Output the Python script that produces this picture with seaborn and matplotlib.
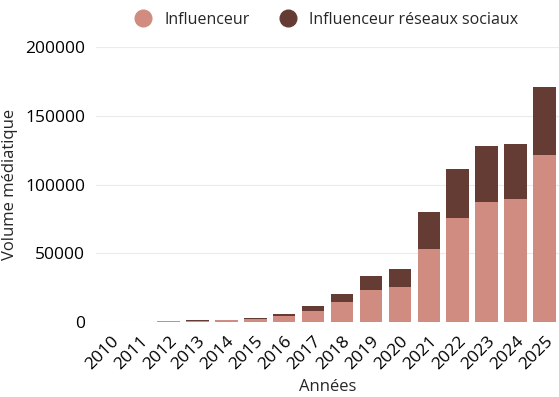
import matplotlib
matplotlib.use("Agg")
import matplotlib.pyplot as plt
from matplotlib.lines import Line2D
import seaborn as sns
import pandas as pd

# données
annees = [str(a) for a in range(2010, 2026)]
influenceur = [0, 500, 900, 1200, 1600, 2100, 4600, 8500, 14600, 23300, 25700,
               53000, 75700, 87300, 89500, 121400]
reseaux_sociaux = [0, 100, 100, 200, 300, 800, 1700, 3600, 6000, 10600, 13300,
                   27300, 35300, 40600, 40300, 49500]

couleur_inf = "#D08C80"
couleur_rs = "#643C34"

sns.set_theme(style="white")
plt.rcParams['font.family'] = ['Open Sans', 'DejaVu Sans']

df = pd.DataFrame({
    'annee': annees,
    'influenceur': influenceur,
    'total': [a + b for a, b in zip(influenceur, reseaux_sociaux)],
})

fig = plt.figure(figsize=(5.59, 3.97), dpi=100)
ax = fig.add_axes([0.172, 0.188, 0.828, 0.694])

# empilement : total en foncé, puis la part influenceur par-dessus
sns.barplot(data=df, x='annee', y='total', color=couleur_rs, saturation=1,
            width=0.78, linewidth=0, ax=ax)
sns.barplot(data=df, x='annee', y='influenceur', color=couleur_inf, saturation=1,
            width=0.78, linewidth=0, ax=ax)

ax.set_ylim(0, 200000)
ax.set_yticks([0, 50000, 100000, 150000, 200000])
ax.set_yticklabels(['0', '50000', '100000', '150000', '200000'])
ax.yaxis.grid(True, color="#ebebeb", linewidth=0.8)
ax.set_axisbelow(True)
sns.despine(ax=ax, left=True, bottom=True)
ax.tick_params(axis='both', length=0, labelsize=12.5, colors='black', pad=8)
plt.setp(ax.get_xticklabels(), rotation=45, ha='right', rotation_mode='anchor')

ax.set_xlabel('Années', fontsize=12, labelpad=4)
ax.set_ylabel('Volume médiatique', fontsize=12, labelpad=5)

handles = [
    Line2D([], [], marker='o', linestyle='none', markersize=12,
           markerfacecolor=couleur_inf, markeredgecolor=couleur_inf),
    Line2D([], [], marker='o', linestyle='none', markersize=12,
           markerfacecolor=couleur_rs, markeredgecolor=couleur_rs),
]
fig.legend(handles, ['Influenceur', 'Influenceur réseaux sociaux'],
           loc='center', bbox_to_anchor=(0.577, 0.95), ncol=2, frameon=False,
           fontsize=11.5, handletextpad=0.3, columnspacing=1.4)

fig.savefig('out.png', dpi=100)
